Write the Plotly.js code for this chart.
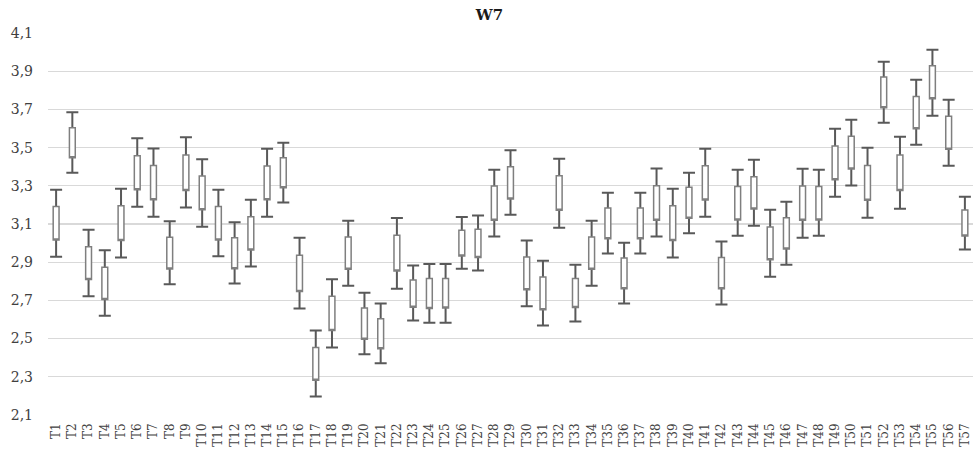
<!DOCTYPE html>
<html>
<head>
<meta charset="utf-8">
<script src="https://cdn.plot.ly/plotly-3.0.1.min.js"></script>
<style>html,body{margin:0;padding:0;background:#fff;}#chart{width:979px;height:458px;}</style>
</head>
<body>
<div id="chart"></div>
<script>
var categories = ["T1","T2","T3","T4","T5","T6","T7","T8","T9","T10","T11","T12","T13","T14","T15","T16","T17","T18","T19","T20","T21","T22","T23","T24","T25","T26","T27","T28","T29","T30","T31","T32","T33","T34","T35","T36","T37","T38","T39","T40","T41","T42","T43","T44","T45","T46","T47","T48","T49","T50","T51","T52","T53","T54","T55","T56","T57"];

var highValues = [3.280,3.685,3.070,2.962,3.285,3.549,3.496,3.114,3.554,3.439,3.280,3.109,3.227,3.494,3.526,3.028,2.542,2.810,3.117,2.740,2.683,3.131,2.882,2.891,2.891,3.137,3.144,3.384,3.486,3.013,2.908,3.442,2.887,3.117,3.264,3.002,3.264,3.391,3.285,3.369,3.494,3.008,3.384,3.437,3.175,3.217,3.390,3.384,3.599,3.646,3.500,3.950,3.557,3.856,4.013,3.751,3.243];

var boxTop = [3.192,3.604,2.981,2.873,3.196,3.458,3.407,3.030,3.461,3.351,3.192,3.028,3.138,3.404,3.447,2.936,2.453,2.721,3.032,2.660,2.604,3.041,2.807,2.814,2.814,3.067,3.072,3.299,3.400,2.927,2.822,3.353,2.814,3.032,3.184,2.922,3.184,3.301,3.196,3.292,3.405,2.924,3.297,3.348,3.084,3.133,3.299,3.297,3.508,3.559,3.407,3.870,3.461,3.768,3.929,3.665,3.173];

var boxBottom = [3.016,3.447,2.809,2.704,3.013,3.280,3.227,2.864,3.275,3.175,3.016,2.866,2.964,3.227,3.290,2.747,2.282,2.542,2.863,2.496,2.447,2.854,2.664,2.658,2.660,2.932,2.925,3.119,3.231,2.756,2.651,3.172,2.662,2.863,3.023,2.761,3.023,3.119,3.014,3.130,3.226,2.761,3.121,3.179,2.913,2.969,3.119,3.121,3.332,3.388,3.224,3.709,3.275,3.599,3.756,3.491,3.037];

var lowValues = [2.929,3.369,2.721,2.620,2.924,3.191,3.138,2.784,3.187,3.086,2.931,2.788,2.878,3.138,3.212,2.657,2.196,2.453,2.777,2.418,2.371,2.761,2.594,2.583,2.583,2.866,2.856,3.034,3.149,2.669,2.568,3.081,2.589,2.777,2.945,2.683,2.945,3.034,2.924,3.051,3.138,2.678,3.039,3.091,2.824,2.887,3.028,3.039,3.243,3.302,3.133,3.631,3.180,3.515,3.667,3.405,2.966];

var yTickValues = [2.1,2.3,2.5,2.7,2.9,3.1,3.3,3.5,3.7,3.9,4.1];

var errUp = highValues.map(function(h,i){return h - boxBottom[i];});
var errDown = lowValues.map(function(l,i){return boxBottom[i] - l;});

var whiskers = {
  type: 'bar',
  x: categories,
  y: boxBottom,
  marker: {color: 'rgba(0,0,0,0)', line: {width: 0}},
  error_y: {type: 'data', symmetric: false, array: errUp, arrayminus: errDown,
            color: '#595959', thickness: 2, width: 6},
  hoverinfo: 'skip',
  showlegend: false
};

var boxes = {
  type: 'box',
  x: categories,
  q1: boxBottom,
  median: boxBottom,
  q3: boxTop,
  lowerfence: boxBottom,
  upperfence: boxTop,
  boxpoints: false,
  width: 0.36,
  whiskerwidth: 0,
  fillcolor: '#ffffff',
  line: {color: '#7f7f7f', width: 1.5},
  hoverinfo: 'skip',
  showlegend: false
};

var layout = {
  width: 979,
  height: 458,
  margin: {l: 48, r: 6, t: 33, b: 43},
  paper_bgcolor: '#ffffff',
  plot_bgcolor: '#ffffff',
  separators: ', ',
  showlegend: false,
  title: {
    text: '<b>W7</b>',
    font: {family: 'DejaVu Serif', size: 15, color: '#1a1a1a'},
    x: 0.5, xref: 'container', xanchor: 'center',
    y: 0.968, yref: 'container', yanchor: 'middle'
  },
  xaxis: {
    type: 'category',
    categoryorder: 'array',
    categoryarray: categories,
    range: [-0.5, 56.5],
    showgrid: false,
    zeroline: false,
    showline: false,
    ticks: '',
    tickangle: -90,
    ticklabelstandoff: 5,
    tickfont: {family: 'DejaVu Serif', size: 12, color: '#404040'}
  },
  yaxis: {
    range: [2.0995, 4.1005],
    tickmode: 'array',
    tickvals: yTickValues,
    tickformat: '.1f',
    showgrid: true,
    gridcolor: '#d9d9d9',
    gridwidth: 1.3,
    zeroline: false,
    showline: false,
    ticks: '',
    ticklabelstandoff: 14,
    tickfont: {family: 'DejaVu Serif', size: 14, color: '#404040'}
  },
  bargap: 0.2
};

Plotly.newPlot('chart', [whiskers, boxes], layout, {displayModeBar: false, staticPlot: true});
</script>
</body>
</html>
